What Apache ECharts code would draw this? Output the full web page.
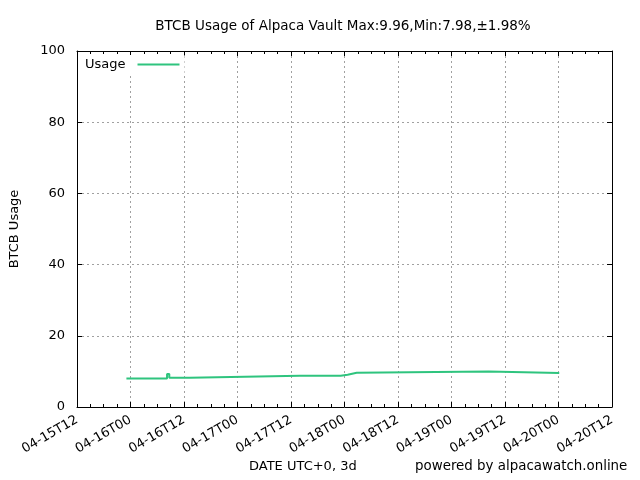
<!DOCTYPE html>
<html>
<head>
<meta charset="utf-8">
<script src="https://cdn.jsdelivr.net/npm/echarts@6/dist/echarts.min.js"></script>
<style>
  html, body { margin: 0; padding: 0; background: #fff; }
  #chart { width: 640px; height: 480px; }
</style>
</head>
<body>
<div id="chart"></div>
<script>
// step points: the value holds from each time until the next one (UTC)
const times = [
  '2022-04-15T23:05Z', '2022-04-16T08:12Z', '2022-04-16T08:42Z', '2022-04-16T13:15Z',
  '2022-04-17T14:00Z', '2022-04-17T14:25Z', '2022-04-17T23:09Z', '2022-04-18T00:42Z',
  '2022-04-18T02:44Z', '2022-04-19T08:21Z', '2022-04-20T00:10Z'
];
const usage = [7.98, 9.3, 8.25, 8.8, 8.7, 8.8, 9.08, 9.61, 9.96, 9.56, 9.56];

const xMin = '2022-04-15T12:00Z';
const xMax = '2022-04-20T12:00Z';
const yTicks = [0, 20, 40, 60, 80, 100];

const HOUR = 3600 * 1000;
const font = 'DejaVu Sans';
const green = '#2fc47e';

const pad = n => String(n).padStart(2, '0');
const fmtTick = v => {
  const d = new Date(v);
  return pad(d.getUTCMonth() + 1) + '-' + pad(d.getUTCDate()) + 'T' + pad(d.getUTCHours());
};

// hold each value until the next sample (gnuplot "steps" style)
const stepData = [];
times.forEach((t, i) => {
  const x = Date.parse(t);
  if (i > 0) stepData.push([x, usage[i - 1]]);
  stepData.push([x, usage[i]]);
});

const chart = echarts.init(document.getElementById('chart'));

const xBase = {
  type: 'value',
  min: Date.parse(xMin),
  max: Date.parse(xMax),
  interval: 12 * HOUR,
  axisLine: { show: true, onZero: false, lineStyle: { color: '#000', width: 1 } },
  axisTick: { show: true, inside: true, length: 5, lineStyle: { color: '#000' } },
  minorTick: { show: true, splitNumber: 4, length: 3, lineStyle: { color: '#000' } }
};
const yBase = {
  type: 'value',
  min: yTicks[0],
  max: yTicks[yTicks.length - 1],
  interval: yTicks[1] - yTicks[0],
  axisLine: { show: true, lineStyle: { color: '#000', width: 1 } },
  axisTick: { show: true, inside: true, length: 5, lineStyle: { color: '#000' } }
};

const txt = { fontFamily: font, fontSize: 13, fontWeight: 'normal', color: '#000' };

const option = {
  animation: false,
  backgroundColor: '#fff',
  textStyle: { fontFamily: font },
  title: [
    {
      text: 'BTCB Usage of Alpaca Vault Max:9.96,Min:7.98,\u00b11.98%',
      left: 343, top: 19, textAlign: 'center', padding: 0,
      textStyle: Object.assign({}, txt, { fontSize: 13.5 })
    },
    {
      text: 'DATE UTC+0, 3d',
      left: 249, top: 460, padding: 0,
      textStyle: txt
    },
    {
      text: 'powered by alpacawatch.online',
      left: 415, top: 460, padding: 0,
      textStyle: Object.assign({}, txt, { fontSize: 13.4 })
    }
  ],
  legend: {
    left: 80, top: 55,
    align: 'right',
    icon: 'rect',
    itemWidth: 42, itemHeight: 2,
    padding: [3, 5, 5, 5],
    backgroundColor: '#fff',
    textStyle: Object.assign({}, txt, { padding: [0, 7, 0, 0] }),
    data: ['Usage']
  },
  grid: { left: 75, right: 28, top: 51, bottom: 73 },
  xAxis: [
    Object.assign({}, xBase, {
      position: 'bottom',
      axisLabel: Object.assign({ rotate: 30, margin: 12, formatter: fmtTick }, txt),
      splitLine: { show: true, lineStyle: { color: '#a0a0a0', type: [2, 3], width: 1 } }
    }),
    Object.assign({}, xBase, {
      position: 'top',
      axisLabel: { show: false },
      splitLine: { show: false }
    })
  ],
  yAxis: [
    Object.assign({}, yBase, {
      position: 'left',
      name: 'BTCB Usage',
      nameLocation: 'middle',
      nameRotate: 90,
      nameGap: 56,
      nameTextStyle: txt,
      axisLabel: Object.assign({ margin: 12 }, txt),
      splitLine: { show: true, lineStyle: { color: '#a0a0a0', type: [2, 3], width: 1 } }
    }),
    Object.assign({}, yBase, {
      position: 'right',
      axisLabel: { show: false },
      splitLine: { show: false }
    })
  ],
  series: [
    {
      name: 'Usage',
      type: 'line',
      showSymbol: false,
      color: green,
      lineStyle: { color: green, width: 2 },
      data: stepData,
      z: 3
    }
  ]
};

chart.setOption(option);
</script>
</body>
</html>
